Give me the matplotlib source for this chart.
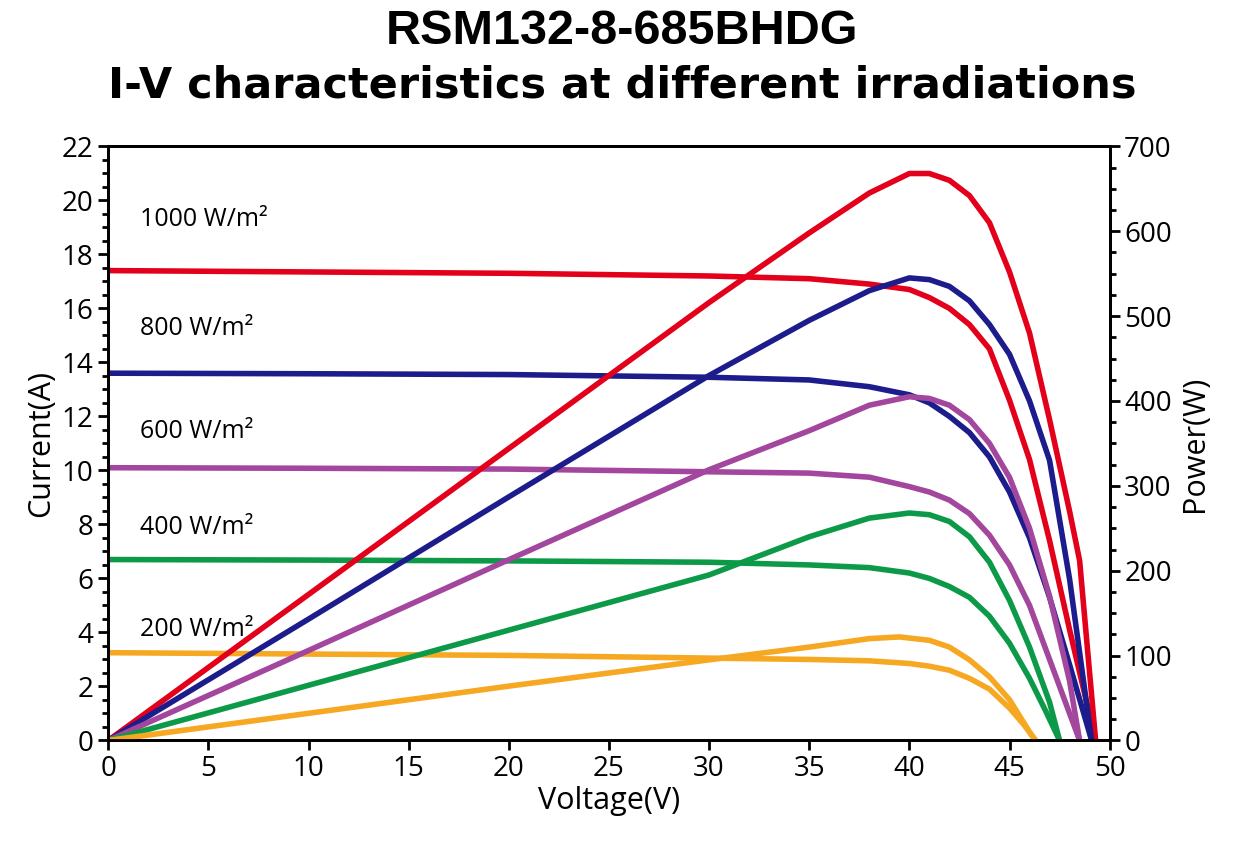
import numpy as np
import matplotlib.pyplot as plt

plt.rcParams['font.family'] = ['Open Sans', 'DejaVu Sans']

labels = ['1000 W/m²', '800 W/m²', '600 W/m²', '400 W/m²', '200 W/m²']
colors = ['#e3001b', '#1c1c8c', '#a3469d', '#0d9a48', '#f7a823']
label_y = [19.3, 15.25, 11.45, 7.9, 4.1]

# I-V curves
iv_v = [
    [0, 10, 20, 30, 35, 38, 40, 41, 42, 43, 44, 45, 46, 47, 48, 49.3],
    [0, 10, 20, 30, 35, 38, 40, 41, 42, 43, 44, 45, 46, 47, 48, 49.1],
    [0, 10, 20, 30, 35, 38, 40, 41, 42, 43, 44, 45, 46, 47, 47.8, 48.5],
    [0, 10, 20, 30, 35, 38, 40, 41, 42, 43, 44, 45, 46, 46.8, 47.5],
    [0, 10, 20, 30, 35, 38, 40, 41, 42, 43, 44, 45, 45.7, 46.3],
]
iv_i = [
    [17.4, 17.35, 17.3, 17.2, 17.1, 16.9, 16.7, 16.4, 16.0, 15.4, 14.5, 12.6, 10.4, 7.4, 4.1, 0],
    [13.6, 13.58, 13.55, 13.45, 13.35, 13.1, 12.8, 12.5, 12.0, 11.4, 10.5, 9.2, 7.5, 5.3, 2.8, 0],
    [10.1, 10.08, 10.05, 9.95, 9.9, 9.75, 9.4, 9.2, 8.9, 8.4, 7.6, 6.5, 5.0, 3.0, 1.4, 0],
    [6.7, 6.68, 6.65, 6.6, 6.5, 6.4, 6.2, 6.0, 5.7, 5.3, 4.6, 3.6, 2.3, 1.1, 0],
    [3.25, 3.2, 3.15, 3.05, 3.0, 2.95, 2.85, 2.75, 2.6, 2.3, 1.9, 1.2, 0.6, 0],
]

# P-V curves
pv_v = [
    [0, 10, 20, 30, 35, 38, 40, 41, 42, 43, 44, 45, 46, 47, 48, 48.5, 49.3],
    [0, 10, 20, 30, 35, 38, 40, 41, 42, 43, 44, 45, 46, 47, 48, 49.1],
    [0, 10, 20, 30, 35, 38, 40, 41, 42, 43, 44, 45, 46, 47, 48, 48.5],
    [0, 10, 20, 30, 35, 38, 40, 41, 42, 43, 44, 45, 46, 47, 47.5],
    [0, 10, 20, 30, 35, 38, 39.5, 41, 42, 43, 44, 45, 46, 46.3],
]
pv_p = [
    [0, 172, 344, 516, 598, 645, 668, 668, 660, 642, 610, 552, 480, 378, 270, 212, 0],
    [0, 143, 287, 430, 495, 530, 545, 543, 535, 518, 490, 455, 400, 330, 190, 0],
    [0, 106, 213, 319, 365, 395, 405, 403, 395, 378, 350, 310, 250, 170, 70, 0],
    [0, 65, 130, 195, 240, 262, 268, 266, 258, 240, 210, 165, 110, 45, 0],
    [0, 32, 64, 95, 110, 120, 122, 118, 110, 95, 75, 48, 10, 0],
]

fig, ax = plt.subplots(figsize=(12.44, 8.61), dpi=100)
fig.subplots_adjust(left=0.087, right=0.892, top=0.83, bottom=0.14)
ax2 = ax.twinx()

for k in range(len(labels)):
    c = colors[k]
    ax.plot(iv_v[k], iv_i[k], color=c, lw=4, solid_capstyle='round', solid_joinstyle='round')
    ax2.plot(pv_v[k], pv_p[k], color=c, lw=4, solid_capstyle='round', solid_joinstyle='round')
    ax.text(1.6, label_y[k], labels[k], fontsize=18, va='center')

ax.set_xlim(0, 50)
ax.set_ylim(0, 22)
ax2.set_ylim(0, 700)
ax.set_xticks(range(0, 51, 5))
ax.set_yticks(range(0, 23, 2))
ax.set_yticks(np.arange(0, 22.1, 0.5), minor=True)
ax2.set_yticks(range(0, 701, 100))
ax2.set_yticks(range(0, 701, 25), minor=True)
for a in (ax, ax2):
    a.tick_params(labelsize=20, width=2, length=7)
    a.tick_params(which='minor', width=2, length=4)
    for s in a.spines.values():
        s.set_linewidth(2)
ax.set_xlabel('Voltage(V)', fontsize=22, labelpad=2)
ax.set_ylabel('Current(A)', fontsize=22, labelpad=4)
ax2.set_ylabel('Power(W)', fontsize=22, labelpad=6)

fig.text(0.5, 0.99, 'RSM132-8-685BHDG', ha='center', va='top', fontsize=35,
         fontweight='bold', family=['Liberation Sans', 'DejaVu Sans'])
fig.text(0.5, 0.925, 'I-V characteristics at different irradiations', ha='center', va='top',
         fontsize=31, fontweight='bold', family=['DejaVu Sans'])

fig.savefig('out.png')
